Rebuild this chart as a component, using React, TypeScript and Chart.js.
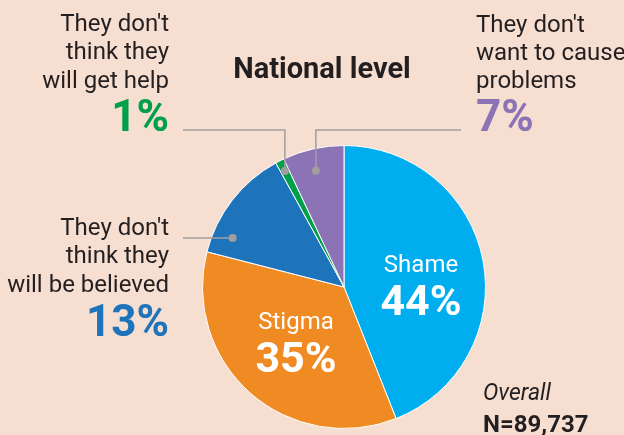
import React, { useEffect, useRef } from "react";
import { Chart, registerables } from "chart.js";

Chart.register(...registerables);

const categories = [
  "Shame",
  "Stigma",
  "They don't think they will be believed",
  "They don't think they will get help",
  "They don't want to cause problems",
];
const values = [44, 35, 13, 1, 7];
const percentLabels = ["44%", "35%", "13%", "1%", "7%"];
const sliceColors = ["#00AEEF", "#F08B23", "#1E74BB", "#00A04A", "#8B73B6"];
const title = "National level";
const overallLabel = "Overall";
const sampleLabel = "N=89,737";

const BG = "#F6DED1";
const TEXT = "#231F20";
const LEADER = "#A09E9E";
const FONT = "Roboto, 'Noto Sans', sans-serif";

export default function App() {
  const ref = useRef<HTMLCanvasElement | null>(null);

  useEffect(() => {
    document.body.style.margin = "0";
    const canvas = ref.current;
    if (!canvas) return;

    const annotate = {
      id: "annotate",
      afterDraw(chart: any) {
        const ctx = chart.ctx as CanvasRenderingContext2D;
        const meta = chart.getDatasetMeta(0);
        const pt = (i: number, f: number, rf: number) => {
          const a: any = meta.data[i];
          const ang = a.startAngle + f * (a.endAngle - a.startAngle);
          const r = a.outerRadius * rf;
          return { x: a.x + Math.cos(ang) * r, y: a.y + Math.sin(ang) * r };
        };
        ctx.save();
        // leader lines
        ctx.strokeStyle = LEADER;
        ctx.fillStyle = LEADER;
        ctx.lineWidth = 1.5;
        const dot = (p: { x: number; y: number }) => {
          ctx.beginPath();
          ctx.arc(p.x, p.y, 4, 0, Math.PI * 2);
          ctx.fill();
        };
        const p3 = pt(3, 0.5, 0.92);
        ctx.beginPath();
        ctx.moveTo(p3.x, p3.y);
        ctx.lineTo(p3.x, 130);
        ctx.lineTo(183, 130);
        ctx.stroke();
        dot(p3);
        const p4 = pt(4, 0.46, 0.845);
        ctx.beginPath();
        ctx.moveTo(p4.x, p4.y);
        ctx.lineTo(p4.x, 130);
        ctx.lineTo(461, 130);
        ctx.stroke();
        dot(p4);
        const p2 = pt(2, 0.2, 0.86);
        ctx.beginPath();
        ctx.moveTo(p2.x, p2.y);
        ctx.lineTo(183, p2.y);
        ctx.stroke();
        dot(p2);

        const text = (
          s: string,
          x: number,
          y: number,
          font: string,
          color: string,
          align: CanvasTextAlign
        ) => {
          ctx.font = font;
          ctx.fillStyle = color;
          ctx.textAlign = align;
          ctx.textBaseline = "alphabetic";
          ctx.fillText(s, x, y);
        };
        const reg = `24px ${FONT}`;
        const big = `bold 44px ${FONT}`;

        // title
        text(title, 322, 78, `bold 29px ${FONT}`, TEXT, "center");

        // left top label (1%)
        text("They don't", 169, 31, reg, TEXT, "right");
        text("think they", 169, 59, reg, TEXT, "right");
        text("will get help", 169, 88, reg, TEXT, "right");
        text(percentLabels[3], 169, 131, big, sliceColors[3], "right");

        // right top label (7%)
        text("They don't", 476, 32, reg, TEXT, "left");
        text("want to cause", 476, 60, reg, TEXT, "left");
        text("problems", 476, 88, reg, TEXT, "left");
        text(percentLabels[4], 476, 131, big, sliceColors[4], "left");

        // left middle label (13%)
        text("They don't", 169, 235, reg, TEXT, "right");
        text("think they", 169, 263, reg, TEXT, "right");
        text("will be believed", 169, 292, reg, TEXT, "right");
        text(percentLabels[2], 169, 336, big, sliceColors[2], "right");

        // in-slice labels
        text(categories[0], 421, 272, reg, "#FFFFFF", "center");
        text(percentLabels[0], 421, 315, `bold 43px ${FONT}`, "#FFFFFF", "center");
        text(categories[1], 296, 329, reg, "#FFFFFF", "center");
        text(percentLabels[1], 296, 372, `bold 43px ${FONT}`, "#FFFFFF", "center");

        // overall
        text(overallLabel, 483, 400, `italic 23px ${FONT}`, TEXT, "left");
        text(sampleLabel, 483, 432, `bold 24px ${FONT}`, TEXT, "left");
        ctx.restore();
      },
    };

    const chart = new Chart(canvas, {
      type: "pie",
      data: {
        labels: categories,
        datasets: [
          {
            data: values,
            backgroundColor: sliceColors,
            borderColor: "#FFFFFF",
            borderWidth: 1,
          },
        ],
      },
      options: {
        animation: false,
        responsive: false,
        devicePixelRatio: 1,
        layout: { padding: { left: 202, right: 138, top: 145, bottom: 6 } },
        plugins: {
          legend: { display: false },
          tooltip: { enabled: false },
          title: { display: false },
        },
      },
      plugins: [annotate],
    });
    return () => chart.destroy();
  }, []);

  return (
    <div
      style={{
        position: "fixed",
        left: 0,
        top: 0,
        width: 624,
        height: 435,
        background: BG,
        overflow: "hidden",
      }}
    >
      <canvas ref={ref} width={624} height={435} style={{ display: "block" }} />
    </div>
  );
}
